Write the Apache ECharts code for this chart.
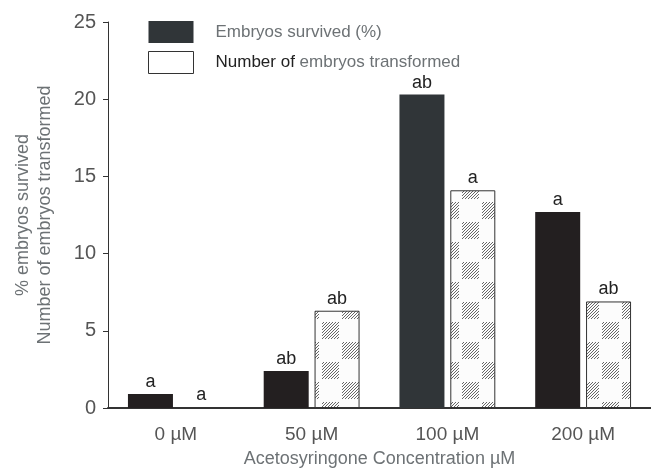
<!DOCTYPE html>
<html>
<head>
<meta charset="utf-8">
<script src="https://cdn.jsdelivr.net/npm/echarts@6/dist/echarts.min.js"></script>
<style>
  html, body { margin: 0; padding: 0; background: #fff; }
  #chart { width: 651px; height: 470px; }
</style>
</head>
<body>
<div id="chart"></div>
<script>
var categories = ['0 µM', '50 µM', '100 µM', '200 µM'];
var survived = [0.9, 2.4, 20.3, 12.7];
var transformed = [0, 6.3, 14.1, 6.9];
var survivedLetters = ['a', 'ab', 'ab', 'a'];
var transformedLetters = ['a', 'ab', 'a', 'ab'];
var yTicks = [0, 5, 10, 15, 20, 25];

// checker tile, hatched squares alternate with plain ones
function hatchTile() {
  var c = document.createElement('canvas');
  c.width = 40; c.height = 40;
  var ctx = c.getContext('2d');
  ctx.fillStyle = '#fcfcfc';
  ctx.fillRect(0, 0, 40, 40);
  ctx.strokeStyle = '#666';
  ctx.lineWidth = 1;
  [[0, 0], [20, 20]].forEach(function (o) {
    ctx.save();
    ctx.beginPath();
    ctx.rect(o[0] + 2, o[1] + 2, 17, 17);
    ctx.clip();
    ctx.beginPath();
    for (var k = -20; k < 40; k += 3) {
      ctx.moveTo(o[0] + k, o[1] + 20);
      ctx.lineTo(o[0] + k + 20, o[1]);
    }
    ctx.stroke();
    ctx.restore();
  });
  return c;
}

var darkColors = ['#231f20', '#231f20', '#303538', '#231f20'];

var chart = echarts.init(document.getElementById('chart'));
chart.setOption({
  animation: false,
  textStyle: { fontFamily: 'Liberation Sans' },
  grid: { left: 108, right: 0, top: 22, bottom: 62, containLabel: false, outerBoundsMode: 'none' },
  legend: {
    orient: 'vertical',
    left: 148, top: 21, padding: 0,
    icon: 'rect',
    itemWidth: 45, itemHeight: 22, itemGap: 8,
    selectedMode: false,
    textStyle: {
      fontSize: 17, color: '#6d7275', padding: [0, 0, 0, 17],
      rich: { k: { fontSize: 17, color: '#222' } }
    },
    formatter: function (name) {
      if (name.indexOf('Number of') === 0) {
        return '{k|Number of} ' + name.slice(10);
      }
      return name;
    },
    data: [
      { name: 'Embryos survived (%)', itemStyle: { color: '#303538', borderWidth: 0 } },
      { name: 'Number of embryos transformed', itemStyle: { color: '#fff', borderColor: '#333', borderWidth: 1 } }
    ]
  },
  xAxis: {
    type: 'category',
    data: categories,
    axisLine: { lineStyle: { color: '#333', width: 2 } },
    axisTick: { show: false },
    axisLabel: { fontSize: 19, color: '#555', margin: 17 },
    name: 'Acetosyringone Concentration µM',
    nameLocation: 'middle',
    nameGap: 42,
    nameTextStyle: { fontSize: 18, color: '#6d7275' }
  },
  yAxis: {
    type: 'value',
    min: yTicks[0], max: yTicks[yTicks.length - 1], interval: 5,
    splitLine: { show: false },
    axisLine: { show: true, lineStyle: { color: '#333', width: 1 } },
    axisTick: { show: true, length: 5, lineStyle: { color: '#333' } },
    axisLabel: { fontSize: 20, color: '#555', margin: 12 },
    name: '% embryos survived\nNumber of embryos transformed',
    nameLocation: 'middle',
    nameRotate: 90,
    nameGap: 52,
    nameTextStyle: { fontSize: 18, color: '#6d7275', lineHeight: 22, align: 'center' }
  },
  series: [
    {
      name: 'Embryos survived (%)',
      type: 'bar',
      barWidth: 45,
      barGap: '13%',
      data: survived.map(function (v, i) {
        return { value: v, itemStyle: { color: darkColors[i] } };
      }),
      itemStyle: { color: '#303538' },
      label: {
        show: true, position: 'top', distance: 3, fontSize: 18, color: '#222',
        formatter: function (p) { return survivedLetters[p.dataIndex]; }
      }
    },
    {
      name: 'Number of embryos transformed',
      type: 'bar',
      barWidth: 45,
      data: transformed,
      itemStyle: {
        color: { image: hatchTile(), repeat: 'repeat' },
        borderColor: '#333', borderWidth: 1
      },
      label: {
        show: true, position: 'top', distance: 3, fontSize: 18, color: '#222',
        formatter: function (p) { return transformedLetters[p.dataIndex]; }
      }
    }
  ]
});
</script>
</body>
</html>
